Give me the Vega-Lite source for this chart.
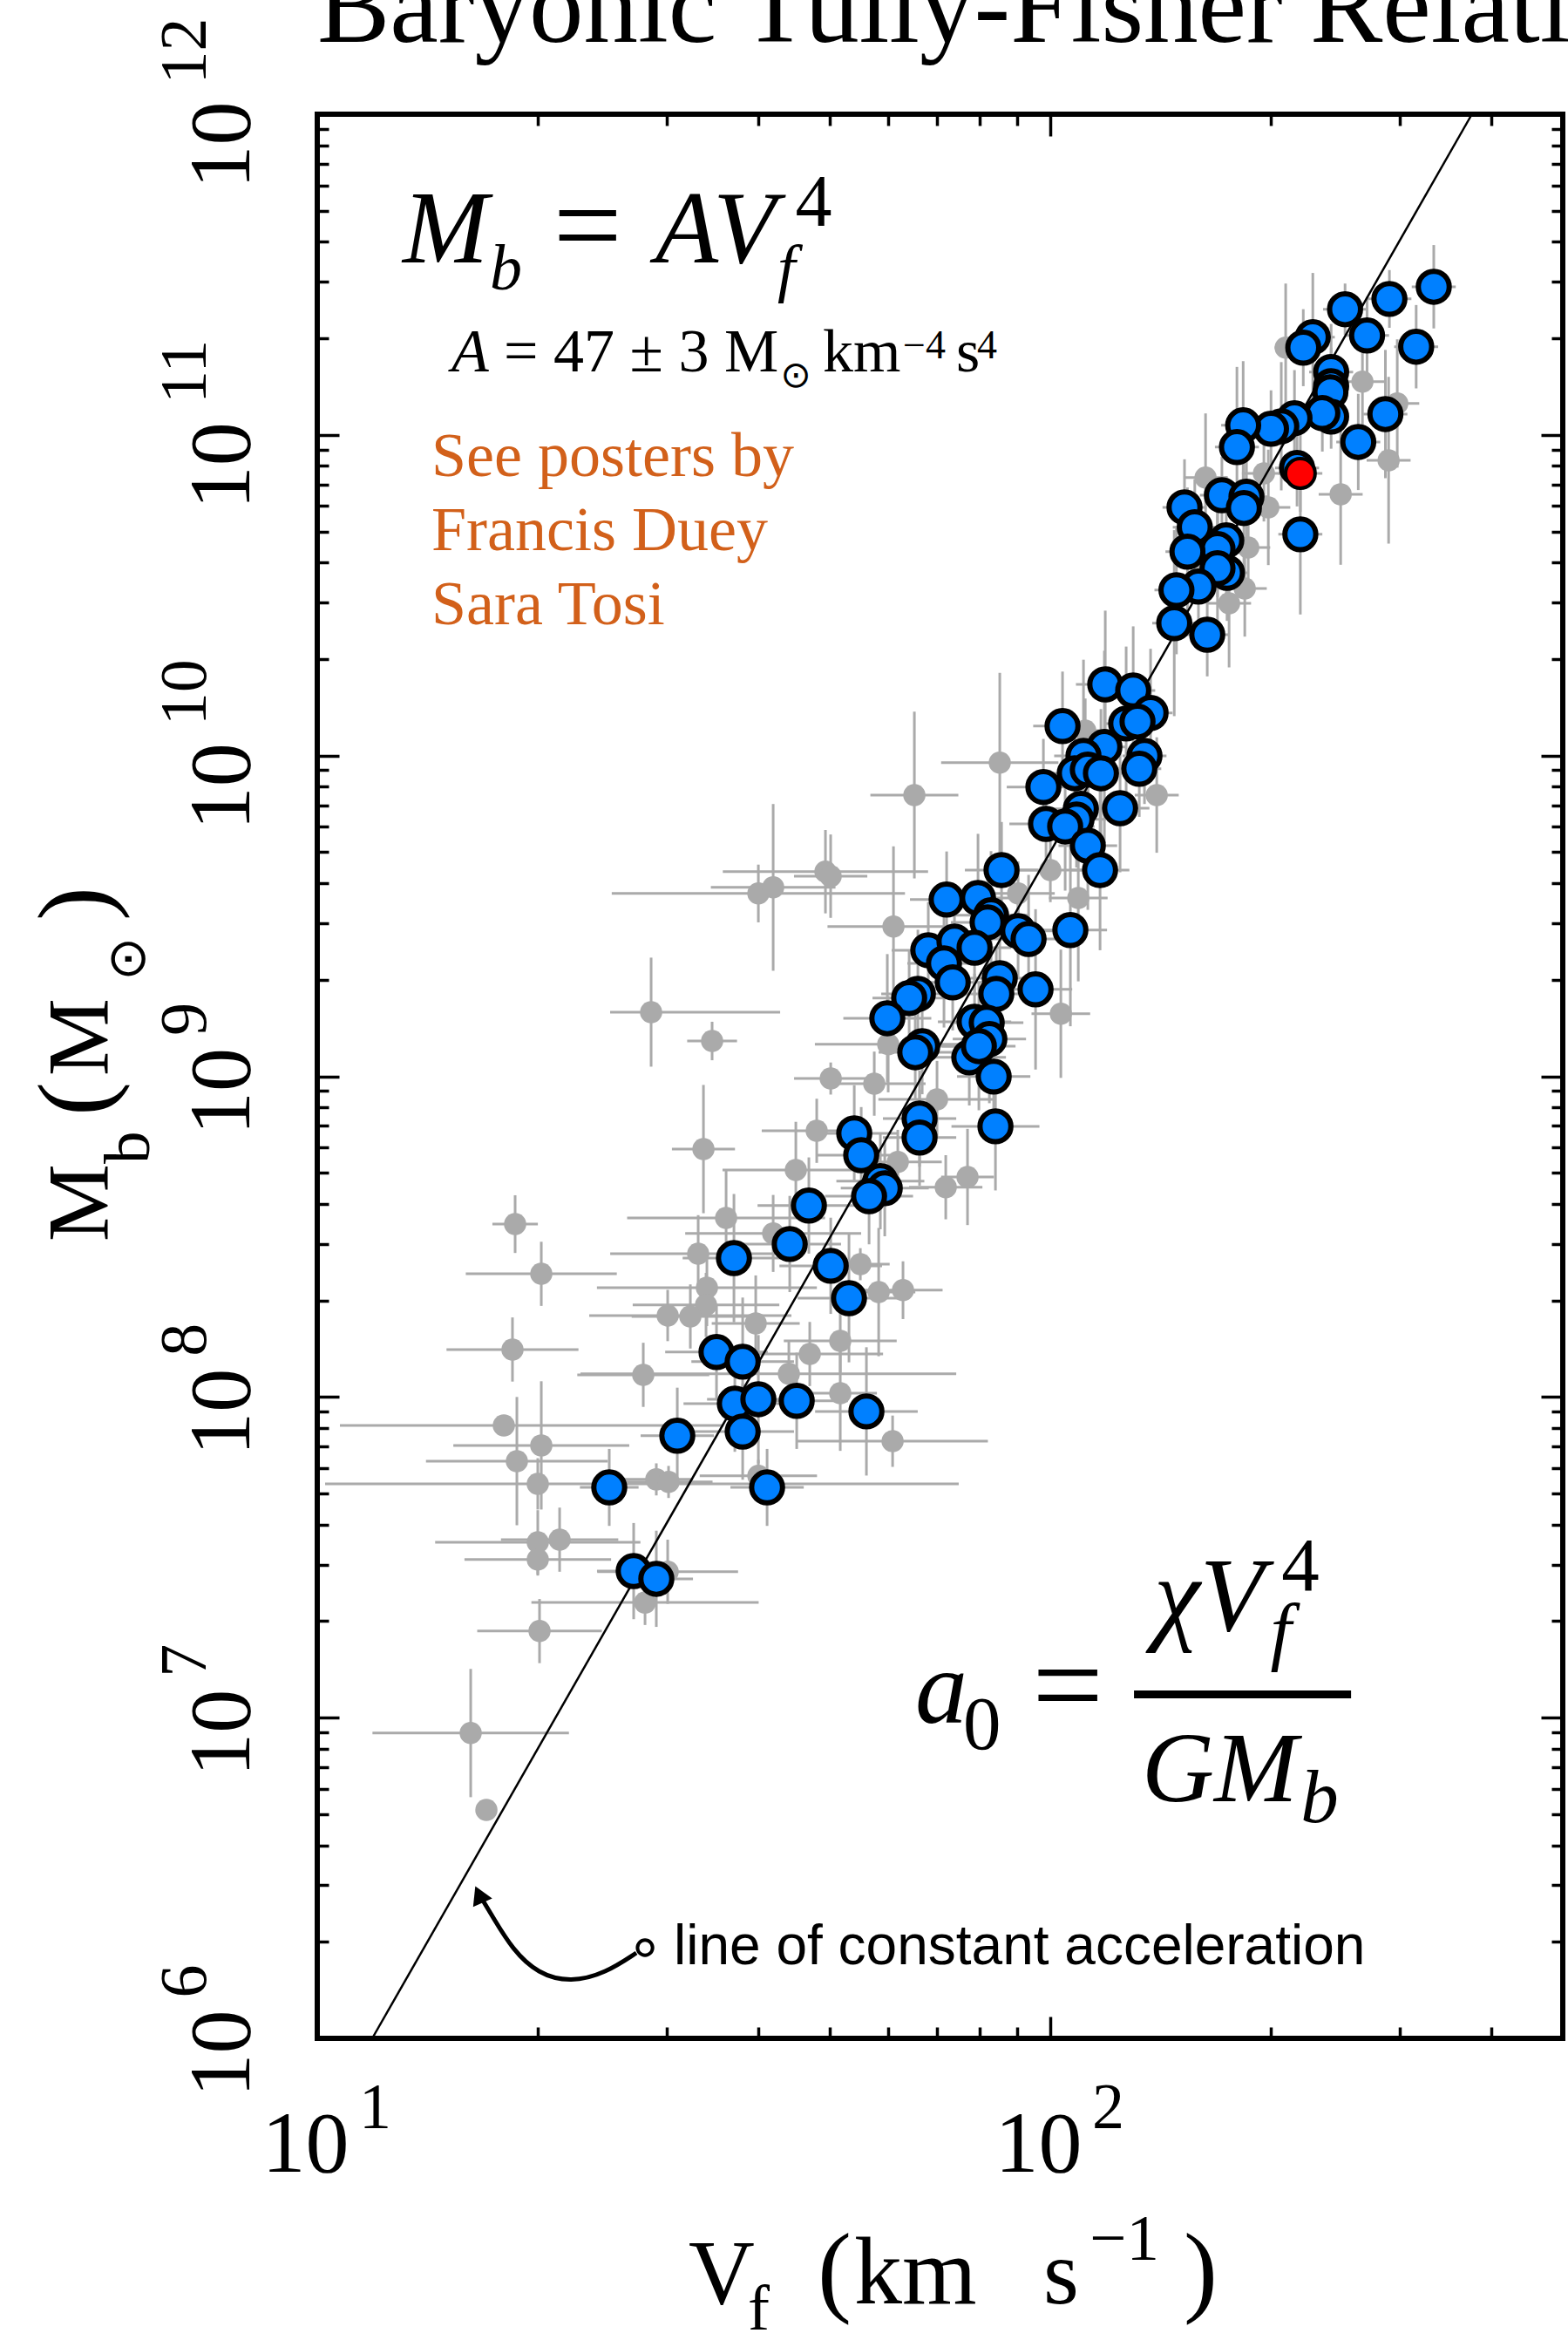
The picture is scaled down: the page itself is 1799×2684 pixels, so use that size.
{
  "$schema": "https://vega.github.io/schema/vega-lite/v6.json",
  "width": 1429,
  "height": 2207,
  "autosize": {"type": "none"},
  "padding": {"left": 364, "top": 131, "right": 6, "bottom": 346},
  "background": "white",
  "config": {
    "font": "Liberation Serif",
    "view": {"stroke": "black", "strokeWidth": 6},
    "axis": {"grid": false, "domain": false}
  },
  "datasets": {
    "points": [
      {"sample": "gray", "logV": 2.321, "logM": 11.272, "dV": 0.015, "dM": 0.2},
      {"sample": "gray", "logV": 2.4257, "logM": 11.166, "dV": 0.03, "dM": 0.15},
      {"sample": "gray", "logV": 2.4732, "logM": 11.098, "dV": 0.03, "dM": 0.2},
      {"sample": "gray", "logV": 2.4614, "logM": 10.921, "dV": 0.03, "dM": 0.26},
      {"sample": "gray", "logV": 2.396, "logM": 10.815, "dV": 0.03, "dM": 0.22},
      {"sample": "gray", "logV": 2.2117, "logM": 10.867, "dV": 0.03, "dM": 0.2},
      {"sample": "gray", "logV": 2.2913, "logM": 10.88, "dV": 0.03, "dM": 0.15},
      {"sample": "gray", "logV": 2.2973, "logM": 10.774, "dV": 0.03, "dM": 0.18},
      {"sample": "gray", "logV": 2.2699, "logM": 10.649, "dV": 0.03, "dM": 0.15},
      {"sample": "gray", "logV": 2.2652, "logM": 10.521, "dV": 0.03, "dM": 0.15},
      {"sample": "gray", "logV": 2.2438, "logM": 10.475, "dV": 0.03, "dM": 0.2},
      {"sample": "gray", "logV": 2.1451, "logM": 9.877, "dV": 0.03, "dM": 0.18},
      {"sample": "gray", "logV": 1.931, "logM": 9.978, "dV": 0.08, "dM": 0.28},
      {"sample": "gray", "logV": 1.8145, "logM": 9.877, "dV": 0.06, "dM": 0.26},
      {"sample": "gray", "logV": 2.0476, "logM": 10.078, "dV": 0.03, "dM": 0.1},
      {"sample": "gray", "logV": 2.0, "logM": 9.643, "dV": 0.05, "dM": 0.1},
      {"sample": "gray", "logV": 1.956, "logM": 9.57, "dV": 0.05, "dM": 0.1},
      {"sample": "gray", "logV": 2.0381, "logM": 9.556, "dV": 0.04, "dM": 0.26},
      {"sample": "gray", "logV": 1.786, "logM": 9.467, "dV": 0.09, "dM": 0.25},
      {"sample": "gray", "logV": 2.0143, "logM": 9.195, "dV": 0.04, "dM": 0.2},
      {"sample": "gray", "logV": 1.6932, "logM": 9.638, "dV": 0.14, "dM": 0.13},
      {"sample": "gray", "logV": 1.7003, "logM": 9.624, "dV": 0.05, "dM": 0.13},
      {"sample": "gray", "logV": 1.6017, "logM": 9.57, "dV": 0.2, "dM": 0.09},
      {"sample": "gray", "logV": 1.6219, "logM": 9.589, "dV": 0.085, "dM": 0.26},
      {"sample": "gray", "logV": 1.4554, "logM": 9.2, "dV": 0, "dM": 0.17},
      {"sample": "gray", "logV": 1.5386, "logM": 9.11, "dV": 0.034, "dM": 0.06},
      {"sample": "gray", "logV": 1.7004, "logM": 8.993, "dV": 0.05, "dM": 0.05},
      {"sample": "gray", "logV": 1.7598, "logM": 8.977, "dV": 0.07, "dM": 0.1},
      {"sample": "gray", "logV": 1.7788, "logM": 9.1, "dV": 0.1, "dM": 0.15},
      {"sample": "gray", "logV": 1.8454, "logM": 8.928, "dV": 0.08, "dM": 0.12},
      {"sample": "gray", "logV": 1.887, "logM": 8.686, "dV": 0.036, "dM": 0.15},
      {"sample": "gray", "logV": 1.8573, "logM": 8.654, "dV": 0.05, "dM": 0.1},
      {"sample": "gray", "logV": 1.7919, "logM": 8.733, "dV": 0.06, "dM": 0.1},
      {"sample": "gray", "logV": 1.6813, "logM": 8.83, "dV": 0.075, "dM": 0.1},
      {"sample": "gray", "logV": 1.5268, "logM": 8.773, "dV": 0.043, "dM": 0.2},
      {"sample": "gray", "logV": 1.6528, "logM": 8.708, "dV": 0.1, "dM": 0.15},
      {"sample": "gray", "logV": 1.5577, "logM": 8.558, "dV": 0.135, "dM": 0.15},
      {"sample": "gray", "logV": 1.6219, "logM": 8.51, "dV": 0.12, "dM": 0.12},
      {"sample": "gray", "logV": 1.5196, "logM": 8.447, "dV": 0.12, "dM": 0.12},
      {"sample": "gray", "logV": 1.5315, "logM": 8.341, "dV": 0.15, "dM": 0.12},
      {"sample": "gray", "logV": 1.5303, "logM": 8.287, "dV": 0.1, "dM": 0.1},
      {"sample": "gray", "logV": 1.478, "logM": 8.254, "dV": 0, "dM": 0.08},
      {"sample": "gray", "logV": 1.5089, "logM": 8.251, "dV": 0.08, "dM": 0.1},
      {"sample": "gray", "logV": 1.5981, "logM": 8.229, "dV": 0.06, "dM": 0.15},
      {"sample": "gray", "logV": 1.7408, "logM": 8.414, "dV": 0.04, "dM": 0.05},
      {"sample": "gray", "logV": 1.7658, "logM": 8.327, "dV": 0.05, "dM": 0.2},
      {"sample": "gray", "logV": 1.799, "logM": 8.333, "dV": 0.054, "dM": 0.09},
      {"sample": "gray", "logV": 1.7134, "logM": 8.175, "dV": 0.077, "dM": 0.1},
      {"sample": "gray", "logV": 1.6718, "logM": 8.134, "dV": 0.1, "dM": 0.1},
      {"sample": "gray", "logV": 1.6433, "logM": 8.072, "dV": 0, "dM": 0.1},
      {"sample": "gray", "logV": 1.7134, "logM": 8.012, "dV": 0.05, "dM": 0.18},
      {"sample": "gray", "logV": 1.7848, "logM": 7.862, "dV": 0.13, "dM": 0.08},
      {"sample": "gray", "logV": 1.2699, "logM": 8.539, "dV": 0.031, "dM": 0.09},
      {"sample": "gray", "logV": 1.3056, "logM": 8.384, "dV": 0.103, "dM": 0.1},
      {"sample": "gray", "logV": 1.2663, "logM": 8.148, "dV": 0.09, "dM": 0.1},
      {"sample": "gray", "logV": 1.4447, "logM": 8.069, "dV": 0.09, "dM": 0.1},
      {"sample": "gray", "logV": 1.2545, "logM": 7.911, "dV": 0, "dM": 0.02},
      {"sample": "gray", "logV": 1.3056, "logM": 7.849, "dV": 0.12, "dM": 0.2},
      {"sample": "gray", "logV": 1.2723, "logM": 7.8, "dV": 0.124, "dM": 0.2},
      {"sample": "gray", "logV": 1.3008, "logM": 7.729, "dV": 0, "dM": 0.08},
      {"sample": "gray", "logV": 1.4625, "logM": 7.743, "dV": 0.05, "dM": 0.05},
      {"sample": "gray", "logV": 1.4792, "logM": 7.735, "dV": 0.06, "dM": 0.05},
      {"sample": "gray", "logV": 1.3008, "logM": 7.547, "dV": 0.14, "dM": 0.1},
      {"sample": "gray", "logV": 1.3306, "logM": 7.555, "dV": 0.08, "dM": 0.1},
      {"sample": "gray", "logV": 1.3008, "logM": 7.493, "dV": 0.1, "dM": 0.05},
      {"sample": "gray", "logV": 1.4471, "logM": 7.359, "dV": 0.155, "dM": 0.07},
      {"sample": "gray", "logV": 1.3032, "logM": 7.27, "dV": 0.085, "dM": 0.1},
      {"sample": "gray", "logV": 1.2093, "logM": 6.952, "dV": 0.134, "dM": 0.2},
      {"sample": "gray", "logV": 1.2307, "logM": 6.712, "dV": 0, "dM": 0},
      {"sample": "gray", "logV": 1.478, "logM": 7.455, "dV": 0.096, "dM": 0.1},
      {"sample": "gray", "logV": 1.6017, "logM": 7.754, "dV": 0.08, "dM": 0.05},
      {"sample": "blue", "logV": 2.523, "logM": 11.462, "dV": 0.03, "dM": 0.13},
      {"sample": "blue", "logV": 2.4625, "logM": 11.424, "dV": 0.03, "dM": 0.09},
      {"sample": "blue", "logV": 2.402, "logM": 11.392, "dV": 0.03, "dM": 0.08},
      {"sample": "blue", "logV": 2.432, "logM": 11.31, "dV": 0.03, "dM": 0.12},
      {"sample": "blue", "logV": 2.499, "logM": 11.275, "dV": 0.03, "dM": 0.13},
      {"sample": "blue", "logV": 2.358, "logM": 11.305, "dV": 0.03, "dM": 0.2},
      {"sample": "blue", "logV": 2.345, "logM": 11.272, "dV": 0.03, "dM": 0.12},
      {"sample": "blue", "logV": 2.383, "logM": 11.196, "dV": 0.03, "dM": 0.15},
      {"sample": "blue", "logV": 2.383, "logM": 11.152, "dV": 0.02, "dM": 0.12},
      {"sample": "blue", "logV": 2.382, "logM": 11.133, "dV": 0.02, "dM": 0.12},
      {"sample": "blue", "logV": 2.383, "logM": 11.057, "dV": 0.02, "dM": 0.1},
      {"sample": "blue", "logV": 2.371, "logM": 11.068, "dV": 0.03, "dM": 0.12},
      {"sample": "blue", "logV": 2.333, "logM": 11.052, "dV": 0.03, "dM": 0.15},
      {"sample": "blue", "logV": 2.315, "logM": 11.027, "dV": 0.03, "dM": 0.2},
      {"sample": "blue", "logV": 2.301, "logM": 11.019, "dV": 0.03, "dM": 0.12},
      {"sample": "blue", "logV": 2.263, "logM": 11.03, "dV": 0.03, "dM": 0.2},
      {"sample": "blue", "logV": 2.2545, "logM": 10.962, "dV": 0.03, "dM": 0.25},
      {"sample": "blue", "logV": 2.457, "logM": 11.065, "dV": 0.03, "dM": 0.2},
      {"sample": "blue", "logV": 2.42, "logM": 10.978, "dV": 0.03, "dM": 0.15},
      {"sample": "blue", "logV": 2.3365, "logM": 10.897, "dV": 0.03, "dM": 0.12},
      {"sample": "blue", "logV": 2.341, "logM": 10.69, "dV": 0.03, "dM": 0.25},
      {"sample": "blue", "logV": 2.183, "logM": 10.774, "dV": 0.03, "dM": 0.15},
      {"sample": "blue", "logV": 2.234, "logM": 10.812, "dV": 0.03, "dM": 0.12},
      {"sample": "blue", "logV": 2.2675, "logM": 10.807, "dV": 0.03, "dM": 0.15},
      {"sample": "blue", "logV": 2.264, "logM": 10.772, "dV": 0.03, "dM": 0.2},
      {"sample": "blue", "logV": 2.197, "logM": 10.712, "dV": 0.03, "dM": 0.15},
      {"sample": "blue", "logV": 2.24, "logM": 10.671, "dV": 0.03, "dM": 0.2},
      {"sample": "blue", "logV": 2.228, "logM": 10.644, "dV": 0.03, "dM": 0.15},
      {"sample": "blue", "logV": 2.187, "logM": 10.636, "dV": 0.03, "dM": 0.2},
      {"sample": "blue", "logV": 2.241, "logM": 10.57, "dV": 0.03, "dM": 0.15},
      {"sample": "blue", "logV": 2.228, "logM": 10.584, "dV": 0.03, "dM": 0.2},
      {"sample": "blue", "logV": 2.202, "logM": 10.527, "dV": 0.03, "dM": 0.15},
      {"sample": "blue", "logV": 2.172, "logM": 10.516, "dV": 0.03, "dM": 0.2},
      {"sample": "blue", "logV": 2.169, "logM": 10.413, "dV": 0.03, "dM": 0.29},
      {"sample": "blue", "logV": 2.214, "logM": 10.377, "dV": 0.03, "dM": 0.13},
      {"sample": "blue", "logV": 2.0749, "logM": 10.222, "dV": 0.04, "dM": 0.23},
      {"sample": "blue", "logV": 2.113, "logM": 10.203, "dV": 0.03, "dM": 0.2},
      {"sample": "blue", "logV": 2.1367, "logM": 10.133, "dV": 0.03, "dM": 0.2},
      {"sample": "blue", "logV": 2.1034, "logM": 10.1, "dV": 0.03, "dM": 0.24},
      {"sample": "blue", "logV": 2.1189, "logM": 10.106, "dV": 0.03, "dM": 0.15},
      {"sample": "blue", "logV": 2.0166, "logM": 10.092, "dV": 0.04, "dM": 0.17},
      {"sample": "blue", "logV": 2.0737, "logM": 10.027, "dV": 0.03, "dM": 0.3},
      {"sample": "blue", "logV": 2.0452, "logM": 9.999, "dV": 0.04, "dM": 0.3},
      {"sample": "blue", "logV": 2.1284, "logM": 9.999, "dV": 0.03, "dM": 0.15},
      {"sample": "blue", "logV": 2.1213, "logM": 9.959, "dV": 0.03, "dM": 0.15},
      {"sample": "blue", "logV": 2.0333, "logM": 9.945, "dV": 0.04, "dM": 0.15},
      {"sample": "blue", "logV": 2.0511, "logM": 9.956, "dV": 0.04, "dM": 0.15},
      {"sample": "blue", "logV": 2.069, "logM": 9.945, "dV": 0.04, "dM": 0.2},
      {"sample": "blue", "logV": 1.9905, "logM": 9.902, "dV": 0.05, "dM": 0.15},
      {"sample": "blue", "logV": 2.0951, "logM": 9.836, "dV": 0.04, "dM": 0.2},
      {"sample": "blue", "logV": 2.0416, "logM": 9.834, "dV": 0.04, "dM": 0.15},
      {"sample": "blue", "logV": 2.0357, "logM": 9.801, "dV": 0.04, "dM": 0.15},
      {"sample": "blue", "logV": 1.9941, "logM": 9.787, "dV": 0.05, "dM": 0.15},
      {"sample": "blue", "logV": 2.0202, "logM": 9.779, "dV": 0.04, "dM": 0.2},
      {"sample": "blue", "logV": 2.0511, "logM": 9.719, "dV": 0.04, "dM": 0.2},
      {"sample": "blue", "logV": 2.0678, "logM": 9.643, "dV": 0.04, "dM": 0.25},
      {"sample": "blue", "logV": 1.9334, "logM": 9.643, "dV": 0.05, "dM": 0.15},
      {"sample": "blue", "logV": 1.8585, "logM": 9.551, "dV": 0.05, "dM": 0.15},
      {"sample": "blue", "logV": 1.9013, "logM": 9.556, "dV": 0.05, "dM": 0.2},
      {"sample": "blue", "logV": 1.9191, "logM": 9.502, "dV": 0.05, "dM": 0.2},
      {"sample": "blue", "logV": 1.9144, "logM": 9.48, "dV": 0.05, "dM": 0.15},
      {"sample": "blue", "logV": 1.956, "logM": 9.453, "dV": 0.05, "dM": 0.15},
      {"sample": "blue", "logV": 1.9703, "logM": 9.428, "dV": 0.05, "dM": 0.2},
      {"sample": "blue", "logV": 2.0273, "logM": 9.456, "dV": 0.05, "dM": 0.3},
      {"sample": "blue", "logV": 1.8335, "logM": 9.393, "dV": 0.05, "dM": 0.15},
      {"sample": "blue", "logV": 1.8692, "logM": 9.42, "dV": 0.05, "dM": 0.15},
      {"sample": "blue", "logV": 1.8549, "logM": 9.352, "dV": 0.05, "dM": 0.2},
      {"sample": "blue", "logV": 1.8668, "logM": 9.293, "dV": 0.05, "dM": 0.15},
      {"sample": "blue", "logV": 1.8966, "logM": 9.401, "dV": 0.05, "dM": 0.15},
      {"sample": "blue", "logV": 1.931, "logM": 9.306, "dV": 0.05, "dM": 0.2},
      {"sample": "blue", "logV": 1.9263, "logM": 9.257, "dV": 0.05, "dM": 0.15},
      {"sample": "blue", "logV": 1.9798, "logM": 9.271, "dV": 0.05, "dM": 0.25},
      {"sample": "blue", "logV": 1.8193, "logM": 9.257, "dV": 0.05, "dM": 0.2},
      {"sample": "blue", "logV": 1.8074, "logM": 9.244, "dV": 0.05, "dM": 0.15},
      {"sample": "blue", "logV": 1.7776, "logM": 9.181, "dV": 0.06, "dM": 0.2},
      {"sample": "blue", "logV": 1.8966, "logM": 9.17, "dV": 0.05, "dM": 0.15},
      {"sample": "blue", "logV": 1.9132, "logM": 9.167, "dV": 0.05, "dM": 0.15},
      {"sample": "blue", "logV": 1.9168, "logM": 9.116, "dV": 0.05, "dM": 0.2},
      {"sample": "blue", "logV": 1.8252, "logM": 9.094, "dV": 0.05, "dM": 0.15},
      {"sample": "blue", "logV": 1.8157, "logM": 9.075, "dV": 0.05, "dM": 0.15},
      {"sample": "blue", "logV": 1.8894, "logM": 9.059, "dV": 0.05, "dM": 0.15},
      {"sample": "blue", "logV": 1.9025, "logM": 9.094, "dV": 0.05, "dM": 0.2},
      {"sample": "blue", "logV": 1.9227, "logM": 8.999, "dV": 0.05, "dM": 0.2},
      {"sample": "blue", "logV": 1.9251, "logM": 8.844, "dV": 0.06, "dM": 0.2},
      {"sample": "blue", "logV": 1.8216, "logM": 8.868, "dV": 0.05, "dM": 0.15},
      {"sample": "blue", "logV": 1.8216, "logM": 8.809, "dV": 0.05, "dM": 0.15},
      {"sample": "blue", "logV": 1.7325, "logM": 8.822, "dV": 0.06, "dM": 0.15},
      {"sample": "blue", "logV": 1.742, "logM": 8.754, "dV": 0.06, "dM": 0.15},
      {"sample": "blue", "logV": 1.7681, "logM": 8.673, "dV": 0.06, "dM": 0.15},
      {"sample": "blue", "logV": 1.7741, "logM": 8.651, "dV": 0.06, "dM": 0.15},
      {"sample": "blue", "logV": 1.7527, "logM": 8.626, "dV": 0.06, "dM": 0.15},
      {"sample": "blue", "logV": 1.6706, "logM": 8.597, "dV": 0.07, "dM": 0.15},
      {"sample": "blue", "logV": 1.6445, "logM": 8.477, "dV": 0.07, "dM": 0.15},
      {"sample": "blue", "logV": 1.5684, "logM": 8.433, "dV": 0.07, "dM": 0.2},
      {"sample": "blue", "logV": 1.7004, "logM": 8.409, "dV": 0.07, "dM": 0.15},
      {"sample": "blue", "logV": 1.7253, "logM": 8.308, "dV": 0.07, "dM": 0.2},
      {"sample": "blue", "logV": 1.5446, "logM": 8.14, "dV": 0.07, "dM": 0.15},
      {"sample": "blue", "logV": 1.5803, "logM": 8.11, "dV": 0.07, "dM": 0.2},
      {"sample": "blue", "logV": 1.5696, "logM": 7.979, "dV": 0.07, "dM": 0.15},
      {"sample": "blue", "logV": 1.6017, "logM": 7.993, "dV": 0.07, "dM": 0.2},
      {"sample": "blue", "logV": 1.654, "logM": 7.988, "dV": 0.07, "dM": 0.15},
      {"sample": "blue", "logV": 1.5803, "logM": 7.892, "dV": 0.07, "dM": 0.15},
      {"sample": "blue", "logV": 1.4911, "logM": 7.879, "dV": 0.05, "dM": 0.15},
      {"sample": "blue", "logV": 1.7491, "logM": 7.955, "dV": 0.07, "dM": 0.2},
      {"sample": "blue", "logV": 1.3983, "logM": 7.718, "dV": 0.04, "dM": 0.12},
      {"sample": "blue", "logV": 1.6136, "logM": 7.718, "dV": 0.05, "dM": 0.12},
      {"sample": "blue", "logV": 1.4316, "logM": 7.457, "dV": 0.05, "dM": 0.15},
      {"sample": "blue", "logV": 1.4625, "logM": 7.433, "dV": 0.05, "dM": 0.15},
      {"sample": "red", "logV": 2.341, "logM": 10.88, "dV": 0.03, "dM": 0.12}
    ],
    "wideErrors": [
      {"logM": 9.2, "logVlo": 1.3995, "logVhi": 1.6314},
      {"logM": 8.254, "logVlo": 1.371, "logVhi": 1.6468},
      {"logM": 8.072, "logVlo": 1.3591, "logVhi": 1.8716},
      {"logM": 7.911, "logVlo": 1.0309, "logVhi": 1.5541},
      {"logM": 7.729, "logVlo": 1.0107, "logVhi": 1.875}
    ],
    "accelLine": [
      {"logV": 1.075, "logM": 6.0},
      {"logV": 2.575, "logM": 12.0}
    ],
    "arrowPath": [
      {"step": 1, "logV": 1.4352, "logM": 6.2665},
      {"step": 2, "logV": 1.3936, "logM": 6.2039},
      {"step": 3, "logV": 1.346, "logM": 6.174},
      {"step": 4, "logV": 1.3008, "logM": 6.2012},
      {"step": 5, "logV": 1.2663, "logM": 6.2773},
      {"step": 6, "logV": 1.2402, "logM": 6.3752},
      {"step": 7, "logV": 1.2247, "logM": 6.435}
    ]
  },
  "layer": [
    {
      "data": {"name": "points"},
      "mark": {"type": "errorbar", "color": "#aaaaaa", "thickness": 3},
      "encoding": {
        "x": {"field": "logV", "type": "quantitative", "scale": {"domain": [1, 2.69897], "nice": false, "zero": false}, "axis": null},
        "xError": {"field": "dV"},
        "y": {"field": "logM", "type": "quantitative", "scale": {"domain": [6, 12], "nice": false, "zero": false}, "axis": null}
      }
    },
    {
      "data": {"name": "points"},
      "mark": {"type": "errorbar", "color": "#aaaaaa", "thickness": 3},
      "encoding": {
        "x": {"field": "logV", "type": "quantitative", "scale": {"domain": [1, 2.69897], "nice": false, "zero": false}, "axis": null},
        "y": {"field": "logM", "type": "quantitative", "scale": {"domain": [6, 12], "nice": false, "zero": false}, "axis": null},
        "yError": {"field": "dM"}
      }
    },
    {
      "data": {"name": "wideErrors"},
      "mark": {"type": "rule", "color": "#aaaaaa", "strokeWidth": 3},
      "encoding": {
        "x": {"field": "logVlo", "type": "quantitative", "scale": {"domain": [1, 2.69897], "nice": false, "zero": false}, "axis": null},
        "x2": {"field": "logVhi"},
        "y": {"field": "logM", "type": "quantitative", "scale": {"domain": [6, 12], "nice": false, "zero": false}, "axis": null}
      }
    },
    {
      "data": {"name": "points"},
      "transform": [{"filter": "datum.sample === 'gray'"}],
      "mark": {"type": "point", "shape": "circle", "filled": true, "color": "#aaaaaa", "opacity": 1, "size": 650},
      "encoding": {
        "x": {"field": "logV", "type": "quantitative", "scale": {"domain": [1, 2.69897], "nice": false, "zero": false},
          "axis": {"orient": "bottom", "title": null, "labels": false, "domain": false, "grid": false, "ticks": true,
            "values": [1, 1.30103, 1.47712, 1.60206, 1.69897, 1.77815, 1.8451, 1.90309, 1.95424, 2, 2.30103, 2.47712, 2.60206],
            "tickColor": "black", "tickWidth": 3.5,
            "tickSize": {"condition": {"test": "datum.value % 1 === 0", "value": -25}, "value": -13}}},
        "y": {"field": "logM", "type": "quantitative", "scale": {"domain": [6, 12], "nice": false, "zero": false},
          "axis": {"orient": "left", "title": null, "labels": false, "domain": false, "grid": false, "ticks": true,
            "values": [6, 6.30103, 6.47712, 6.60206, 6.69897, 6.77815, 6.8451, 6.90309, 6.95424,
                       7, 7.30103, 7.47712, 7.60206, 7.69897, 7.77815, 7.8451, 7.90309, 7.95424,
                       8, 8.30103, 8.47712, 8.60206, 8.69897, 8.77815, 8.8451, 8.90309, 8.95424,
                       9, 9.30103, 9.47712, 9.60206, 9.69897, 9.77815, 9.8451, 9.90309, 9.95424,
                       10, 10.30103, 10.47712, 10.60206, 10.69897, 10.77815, 10.8451, 10.90309, 10.95424,
                       11, 11.30103, 11.47712, 11.60206, 11.69897, 11.77815, 11.8451, 11.90309, 11.95424, 12],
            "tickColor": "black", "tickWidth": 3.5,
            "tickSize": {"condition": {"test": "datum.value % 1 === 0", "value": -25}, "value": -13}}}
      }
    },
    {
      "data": {"name": "accelLine"},
      "mark": {"type": "line", "color": "black", "strokeWidth": 2.5},
      "encoding": {
        "x": {"field": "logV", "type": "quantitative", "scale": {"domain": [1, 2.69897], "nice": false, "zero": false},
          "axis": {"orient": "top", "title": null, "labels": false, "domain": false, "grid": false, "ticks": true,
            "values": [1, 1.30103, 1.47712, 1.60206, 1.69897, 1.77815, 1.8451, 1.90309, 1.95424, 2, 2.30103, 2.47712, 2.60206],
            "tickColor": "black", "tickWidth": 3.5,
            "tickSize": {"condition": {"test": "datum.value % 1 === 0", "value": -25}, "value": -13}}},
        "y": {"field": "logM", "type": "quantitative", "scale": {"domain": [6, 12], "nice": false, "zero": false},
          "axis": {"orient": "right", "title": null, "labels": false, "domain": false, "grid": false, "ticks": true,
            "values": [6, 6.30103, 6.47712, 6.60206, 6.69897, 6.77815, 6.8451, 6.90309, 6.95424,
                       7, 7.30103, 7.47712, 7.60206, 7.69897, 7.77815, 7.8451, 7.90309, 7.95424,
                       8, 8.30103, 8.47712, 8.60206, 8.69897, 8.77815, 8.8451, 8.90309, 8.95424,
                       9, 9.30103, 9.47712, 9.60206, 9.69897, 9.77815, 9.8451, 9.90309, 9.95424,
                       10, 10.30103, 10.47712, 10.60206, 10.69897, 10.77815, 10.8451, 10.90309, 10.95424,
                       11, 11.30103, 11.47712, 11.60206, 11.69897, 11.77815, 11.8451, 11.90309, 11.95424, 12],
            "tickColor": "black", "tickWidth": 3.5,
            "tickSize": {"condition": {"test": "datum.value % 1 === 0", "value": -25}, "value": -13}}}
      }
    },
    {
      "data": {"name": "points"},
      "transform": [{"filter": "datum.sample === 'blue'"}],
      "mark": {"type": "point", "shape": "circle", "filled": true, "fill": "#0080ff", "stroke": "black", "strokeWidth": 6, "opacity": 1, "size": 1257},
      "encoding": {
        "x": {"field": "logV", "type": "quantitative", "scale": {"domain": [1, 2.69897], "nice": false, "zero": false},
          "axis": {"orient": "bottom", "title": null, "ticks": false, "domain": false, "grid": false, "values": [1, 2],
            "labelExpr": "'10'", "labelFont": "Liberation Serif", "labelFontSize": 100, "labelColor": "black",
            "labelAlign": "center", "labelBaseline": "alphabetic", "labelPadding": 152, "labelOffset": -14,
            "labelFlush": false, "labelOverlap": false, "labelBound": false, "labelLimit": 0}},
        "y": {"field": "logM", "type": "quantitative", "scale": {"domain": [6, 12], "nice": false, "zero": false},
          "axis": {"orient": "left", "title": null, "ticks": false, "domain": false, "grid": false, "values": [6, 7, 8, 9, 10, 11, 12],
            "labelExpr": "'10'", "labelFont": "Liberation Serif", "labelFontSize": 100, "labelColor": "black",
            "labelAngle": 270, "labelAlign": "center", "labelBaseline": "alphabetic", "labelPadding": 79,
            "labelOffset": {"condition": {"test": "datum.value >= 10", "value": 35}, "value": 17},
            "labelFlush": false, "labelOverlap": false, "labelBound": false, "labelLimit": 0}}
      }
    },
    {
      "data": {"name": "points"},
      "transform": [{"filter": "datum.sample === 'red'"}],
      "mark": {"type": "point", "shape": "circle", "filled": true, "fill": "#ff0000", "stroke": "black", "strokeWidth": 4, "opacity": 1, "size": 1150},
      "encoding": {
        "x": {"field": "logV", "type": "quantitative", "scale": {"domain": [1, 2.69897], "nice": false, "zero": false},
          "axis": {"orient": "bottom", "title": null, "ticks": false, "domain": false, "grid": false, "values": [1, 2],
            "labelExpr": "format(datum.value, 'd')", "labelFont": "Liberation Serif", "labelFontSize": 74, "labelColor": "black",
            "labelAlign": "center", "labelBaseline": "alphabetic", "labelPadding": 102, "labelOffset": 66,
            "labelFlush": false, "labelOverlap": false, "labelBound": false, "labelLimit": 0}},
        "y": {"field": "logM", "type": "quantitative", "scale": {"domain": [6, 12], "nice": false, "zero": false},
          "axis": {"orient": "left", "title": null, "ticks": false, "domain": false, "grid": false, "values": [6, 7, 8, 9, 10, 11, 12],
            "labelExpr": "format(datum.value, 'd')", "labelFont": "Liberation Serif", "labelFontSize": 76, "labelColor": "black",
            "labelAngle": 270, "labelAlign": "center", "labelBaseline": "alphabetic", "labelPadding": 129,
            "labelOffset": {"condition": {"test": "datum.value >= 10", "value": -73}, "value": -66},
            "labelFlush": false, "labelOverlap": false, "labelBound": false, "labelLimit": 0}}
      }
    },
    {
      "data": {"name": "arrowPath"},
      "mark": {"type": "line", "color": "black", "strokeWidth": 5, "interpolate": "basis"},
      "encoding": {
        "x": {"field": "logV", "type": "quantitative", "scale": {"domain": [1, 2.69897], "nice": false, "zero": false}, "axis": null},
        "y": {"field": "logM", "type": "quantitative", "scale": {"domain": [6, 12], "nice": false, "zero": false}, "axis": null},
        "order": {"field": "step"}
      }
    },
    {
      "data": {"values": [{}]},
      "mark": {"type": "point", "shape": "triangle-up", "filled": true, "color": "black", "opacity": 1, "size": 576, "angle": 336},
      "encoding": {
        "x": {"datum": 1.2206, "type": "quantitative", "scale": {"domain": [1, 2.69897], "nice": false, "zero": false}, "axis": null},
        "y": {"datum": 6.4486, "type": "quantitative", "scale": {"domain": [6, 12], "nice": false, "zero": false}, "axis": null}
      }
    },
    {
      "data": {"values": [{}]},
      "mark": {"type": "point", "shape": "circle", "filled": true, "fill": "white", "stroke": "black", "strokeWidth": 4, "opacity": 1, "size": 300},
      "encoding": {
        "x": {"datum": 1.4471, "type": "quantitative", "scale": {"domain": [1, 2.69897], "nice": false, "zero": false}, "axis": null},
        "y": {"datum": 6.2828, "type": "quantitative", "scale": {"domain": [6, 12], "nice": false, "zero": false}, "axis": null}
      }
    },
    {
      "data": {"values": [{}]},
      "mark": {"type": "text", "text": "line of constant acceleration", "font": "Liberation Sans", "fontSize": 64, "align": "left", "baseline": "alphabetic", "color": "black"},
      "encoding": {
        "x": {"datum": 1.4863, "type": "quantitative", "scale": {"domain": [1, 2.69897], "nice": false, "zero": false}, "axis": null},
        "y": {"datum": 6.2311, "type": "quantitative", "scale": {"domain": [6, 12], "nice": false, "zero": false}, "axis": null}
      }
    },
    {
      "data": {"values": [{}]},
      "mark": {"type": "text", "text": "Baryonic Tully-Fisher Relation", "font": "Liberation Serif", "fontSize": 125, "align": "left", "baseline": "alphabetic", "color": "black"},
      "encoding": {
        "x": {"datum": 1.0, "type": "quantitative", "scale": {"domain": [1, 2.69897], "nice": false, "zero": false}, "axis": null},
        "y": {"datum": 12.2262, "type": "quantitative", "scale": {"domain": [6, 12], "nice": false, "zero": false}, "axis": null}
      }
    },
    {
      "data": {"values": [{}]},
      "mark": {"type": "text", "text": "M", "font": "Liberation Serif", "fontStyle": "italic", "fontSize": 118, "align": "left", "baseline": "alphabetic", "color": "black"},
      "encoding": {
        "x": {"datum": 1.1165, "type": "quantitative", "scale": {"domain": [1, 2.69897], "nice": false, "zero": false}, "axis": null},
        "y": {"datum": 11.5383, "type": "quantitative", "scale": {"domain": [6, 12], "nice": false, "zero": false}, "axis": null}
      }
    },
    {
      "data": {"values": [{}]},
      "mark": {"type": "text", "text": "b", "font": "Liberation Serif", "fontStyle": "italic", "fontSize": 74, "align": "left", "baseline": "alphabetic", "color": "black"},
      "encoding": {
        "x": {"datum": 1.2354, "type": "quantitative", "scale": {"domain": [1, 2.69897], "nice": false, "zero": false}, "axis": null},
        "y": {"datum": 11.454, "type": "quantitative", "scale": {"domain": [6, 12], "nice": false, "zero": false}, "axis": null}
      }
    },
    {
      "data": {"values": [{}]},
      "mark": {"type": "text", "text": "=", "font": "Liberation Serif", "fontSize": 140, "align": "center", "baseline": "alphabetic", "color": "black"},
      "encoding": {
        "x": {"datum": 1.3687, "type": "quantitative", "scale": {"domain": [1, 2.69897], "nice": false, "zero": false}, "axis": null},
        "y": {"datum": 11.5274, "type": "quantitative", "scale": {"domain": [6, 12], "nice": false, "zero": false}, "axis": null}
      }
    },
    {
      "data": {"values": [{}]},
      "mark": {"type": "text", "text": "AV", "font": "Liberation Serif", "fontStyle": "italic", "fontSize": 118, "align": "left", "baseline": "alphabetic", "color": "black"},
      "encoding": {
        "x": {"datum": 1.4614, "type": "quantitative", "scale": {"domain": [1, 2.69897], "nice": false, "zero": false}, "axis": null},
        "y": {"datum": 11.5383, "type": "quantitative", "scale": {"domain": [6, 12], "nice": false, "zero": false}, "axis": null}
      }
    },
    {
      "data": {"values": [{}]},
      "mark": {"type": "text", "text": "f", "font": "Liberation Serif", "fontStyle": "italic", "fontSize": 74, "align": "left", "baseline": "alphabetic", "color": "black"},
      "encoding": {
        "x": {"datum": 1.6278, "type": "quantitative", "scale": {"domain": [1, 2.69897], "nice": false, "zero": false}, "axis": null},
        "y": {"datum": 11.454, "type": "quantitative", "scale": {"domain": [6, 12], "nice": false, "zero": false}, "axis": null}
      }
    },
    {
      "data": {"values": [{}]},
      "mark": {"type": "text", "text": "4", "font": "Liberation Serif", "fontSize": 84, "align": "left", "baseline": "alphabetic", "color": "black"},
      "encoding": {
        "x": {"datum": 1.652, "type": "quantitative", "scale": {"domain": [1, 2.69897], "nice": false, "zero": false}, "axis": null},
        "y": {"datum": 11.6525, "type": "quantitative", "scale": {"domain": [6, 12], "nice": false, "zero": false}, "axis": null}
      }
    },
    {
      "data": {"values": [{}]},
      "mark": {"type": "text", "text": "A", "font": "Liberation Serif", "fontStyle": "italic", "fontSize": 70, "align": "left", "baseline": "alphabetic", "color": "black"},
      "encoding": {
        "x": {"datum": 1.1831, "type": "quantitative", "scale": {"domain": [1, 2.69897], "nice": false, "zero": false}, "axis": null},
        "y": {"datum": 11.1985, "type": "quantitative", "scale": {"domain": [6, 12], "nice": false, "zero": false}, "axis": null}
      }
    },
    {
      "data": {"values": [{}]},
      "mark": {"type": "text", "text": "= 47 ± 3 M", "font": "Liberation Serif", "fontSize": 70, "align": "left", "baseline": "alphabetic", "color": "black"},
      "encoding": {
        "x": {"datum": 1.2545, "type": "quantitative", "scale": {"domain": [1, 2.69897], "nice": false, "zero": false}, "axis": null},
        "y": {"datum": 11.1985, "type": "quantitative", "scale": {"domain": [6, 12], "nice": false, "zero": false}, "axis": null}
      }
    },
    {
      "data": {"values": [{}]},
      "mark": {"type": "text", "text": "⊙", "font": "DejaVu Sans", "fontSize": 42, "align": "center", "baseline": "alphabetic", "color": "black"},
      "encoding": {
        "x": {"datum": 1.6528, "type": "quantitative", "scale": {"domain": [1, 2.69897], "nice": false, "zero": false}, "axis": null},
        "y": {"datum": 11.1496, "type": "quantitative", "scale": {"domain": [6, 12], "nice": false, "zero": false}, "axis": null}
      }
    },
    {
      "data": {"values": [{}]},
      "mark": {"type": "text", "text": "km", "font": "Liberation Serif", "fontSize": 70, "align": "left", "baseline": "alphabetic", "color": "black"},
      "encoding": {
        "x": {"datum": 1.6897, "type": "quantitative", "scale": {"domain": [1, 2.69897], "nice": false, "zero": false}, "axis": null},
        "y": {"datum": 11.1985, "type": "quantitative", "scale": {"domain": [6, 12], "nice": false, "zero": false}, "axis": null}
      }
    },
    {
      "data": {"values": [{}]},
      "mark": {"type": "text", "text": "−4", "font": "Liberation Serif", "fontSize": 46, "align": "left", "baseline": "alphabetic", "color": "black"},
      "encoding": {
        "x": {"datum": 1.799, "type": "quantitative", "scale": {"domain": [1, 2.69897], "nice": false, "zero": false}, "axis": null},
        "y": {"datum": 11.2393, "type": "quantitative", "scale": {"domain": [6, 12], "nice": false, "zero": false}, "axis": null}
      }
    },
    {
      "data": {"values": [{}]},
      "mark": {"type": "text", "text": "s", "font": "Liberation Serif", "fontSize": 70, "align": "left", "baseline": "alphabetic", "color": "black"},
      "encoding": {
        "x": {"datum": 1.8716, "type": "quantitative", "scale": {"domain": [1, 2.69897], "nice": false, "zero": false}, "axis": null},
        "y": {"datum": 11.1985, "type": "quantitative", "scale": {"domain": [6, 12], "nice": false, "zero": false}, "axis": null}
      }
    },
    {
      "data": {"values": [{}]},
      "mark": {"type": "text", "text": "4", "font": "Liberation Serif", "fontSize": 46, "align": "left", "baseline": "alphabetic", "color": "black"},
      "encoding": {
        "x": {"datum": 1.9001, "type": "quantitative", "scale": {"domain": [1, 2.69897], "nice": false, "zero": false}, "axis": null},
        "y": {"datum": 11.2393, "type": "quantitative", "scale": {"domain": [6, 12], "nice": false, "zero": false}, "axis": null}
      }
    },
    {
      "data": {"values": [{}]},
      "mark": {"type": "text", "text": ["See posters by", "Francis Duey", "Sara Tosi"], "lineHeight": 85, "font": "Liberation Serif", "fontSize": 72, "align": "left", "baseline": "alphabetic", "color": "#d2601a"},
      "encoding": {
        "x": {"datum": 1.1558, "type": "quantitative", "scale": {"domain": [1, 2.69897], "nice": false, "zero": false}, "axis": null},
        "y": {"datum": 10.8722, "type": "quantitative", "scale": {"domain": [6, 12], "nice": false, "zero": false}, "axis": null}
      }
    },
    {
      "data": {"values": [{}]},
      "mark": {"type": "text", "text": "a", "font": "Liberation Serif", "fontStyle": "italic", "fontSize": 120, "align": "left", "baseline": "alphabetic", "color": "black"},
      "encoding": {
        "x": {"datum": 1.8157, "type": "quantitative", "scale": {"domain": [1, 2.69897], "nice": false, "zero": false}, "axis": null},
        "y": {"datum": 6.9842, "type": "quantitative", "scale": {"domain": [6, 12], "nice": false, "zero": false}, "axis": null}
      }
    },
    {
      "data": {"values": [{}]},
      "mark": {"type": "text", "text": "0", "font": "Liberation Serif", "fontSize": 87, "align": "left", "baseline": "alphabetic", "color": "black"},
      "encoding": {
        "x": {"datum": 1.8811, "type": "quantitative", "scale": {"domain": [1, 2.69897], "nice": false, "zero": false}, "axis": null},
        "y": {"datum": 6.9027, "type": "quantitative", "scale": {"domain": [6, 12], "nice": false, "zero": false}, "axis": null}
      }
    },
    {
      "data": {"values": [{}]},
      "mark": {"type": "text", "text": "=", "font": "Liberation Serif", "fontSize": 145, "align": "center", "baseline": "alphabetic", "color": "black"},
      "encoding": {
        "x": {"datum": 2.0238, "type": "quantitative", "scale": {"domain": [1, 2.69897], "nice": false, "zero": false}, "axis": null},
        "y": {"datum": 6.9706, "type": "quantitative", "scale": {"domain": [6, 12], "nice": false, "zero": false}, "axis": null}
      }
    },
    {
      "data": {"values": [{}]},
      "mark": {"type": "rule", "color": "black", "strokeWidth": 9, "strokeCap": "butt"},
      "encoding": {
        "x": {"datum": 2.1141, "type": "quantitative", "scale": {"domain": [1, 2.69897], "nice": false, "zero": false}, "axis": null},
        "x2": {"datum": 2.4102},
        "y": {"datum": 7.0726, "type": "quantitative", "scale": {"domain": [6, 12], "nice": false, "zero": false}, "axis": null}
      }
    },
    {
      "data": {"values": [{}]},
      "mark": {"type": "text", "text": "χV", "font": "Liberation Serif", "fontStyle": "italic", "fontSize": 120, "align": "left", "baseline": "alphabetic", "color": "black"},
      "encoding": {
        "x": {"datum": 2.1415, "type": "quantitative", "scale": {"domain": [1, 2.69897], "nice": false, "zero": false}, "axis": null},
        "y": {"datum": 7.2724, "type": "quantitative", "scale": {"domain": [6, 12], "nice": false, "zero": false}, "axis": null}
      }
    },
    {
      "data": {"values": [{}]},
      "mark": {"type": "text", "text": "f", "font": "Liberation Serif", "fontStyle": "italic", "fontSize": 87, "align": "left", "baseline": "alphabetic", "color": "black"},
      "encoding": {
        "x": {"datum": 2.3, "type": "quantitative", "scale": {"domain": [1, 2.69897], "nice": false, "zero": false}, "axis": null},
        "y": {"datum": 7.1936, "type": "quantitative", "scale": {"domain": [6, 12], "nice": false, "zero": false}, "axis": null}
      }
    },
    {
      "data": {"values": [{}]},
      "mark": {"type": "text", "text": "4", "font": "Liberation Serif", "fontSize": 87, "align": "left", "baseline": "alphabetic", "color": "black"},
      "encoding": {
        "x": {"datum": 2.3151, "type": "quantitative", "scale": {"domain": [1, 2.69897], "nice": false, "zero": false}, "axis": null},
        "y": {"datum": 7.3975, "type": "quantitative", "scale": {"domain": [6, 12], "nice": false, "zero": false}, "axis": null}
      }
    },
    {
      "data": {"values": [{}]},
      "mark": {"type": "text", "text": "GM", "font": "Liberation Serif", "fontStyle": "italic", "fontSize": 115, "align": "left", "baseline": "alphabetic", "color": "black"},
      "encoding": {
        "x": {"datum": 2.1248, "type": "quantitative", "scale": {"domain": [1, 2.69897], "nice": false, "zero": false}, "axis": null},
        "y": {"datum": 6.7395, "type": "quantitative", "scale": {"domain": [6, 12], "nice": false, "zero": false}, "axis": null}
      }
    },
    {
      "data": {"values": [{}]},
      "mark": {"type": "text", "text": "b", "font": "Liberation Serif", "fontStyle": "italic", "fontSize": 87, "align": "left", "baseline": "alphabetic", "color": "black"},
      "encoding": {
        "x": {"datum": 2.3413, "type": "quantitative", "scale": {"domain": [1, 2.69897], "nice": false, "zero": false}, "axis": null},
        "y": {"datum": 6.6743, "type": "quantitative", "scale": {"domain": [6, 12], "nice": false, "zero": false}, "axis": null}
      }
    },
    {
      "data": {"values": [{}]},
      "mark": {"type": "text", "text": "V", "font": "Liberation Serif", "fontSize": 105, "align": "left", "baseline": "alphabetic", "color": "black"},
      "encoding": {
        "x": {"datum": 1.5065, "type": "quantitative", "scale": {"domain": [1, 2.69897], "nice": false, "zero": false}, "axis": null},
        "y": {"datum": 5.1735, "type": "quantitative", "scale": {"domain": [6, 12], "nice": false, "zero": false}, "axis": null}
      }
    },
    {
      "data": {"values": [{}]},
      "mark": {"type": "text", "text": "f", "font": "Liberation Serif", "fontSize": 75, "align": "left", "baseline": "alphabetic", "color": "black"},
      "encoding": {
        "x": {"datum": 1.5874, "type": "quantitative", "scale": {"domain": [1, 2.69897], "nice": false, "zero": false}, "axis": null},
        "y": {"datum": 5.0919, "type": "quantitative", "scale": {"domain": [6, 12], "nice": false, "zero": false}, "axis": null}
      }
    },
    {
      "data": {"values": [{}]},
      "mark": {"type": "text", "text": "(", "font": "Liberation Serif", "fontSize": 117, "align": "left", "baseline": "alphabetic", "color": "black"},
      "encoding": {
        "x": {"datum": 1.6825, "type": "quantitative", "scale": {"domain": [1, 2.69897], "nice": false, "zero": false}, "axis": null},
        "y": {"datum": 5.1735, "type": "quantitative", "scale": {"domain": [6, 12], "nice": false, "zero": false}, "axis": null}
      }
    },
    {
      "data": {"values": [{}]},
      "mark": {"type": "text", "text": "km", "font": "Liberation Serif", "fontSize": 110, "align": "left", "baseline": "alphabetic", "color": "black"},
      "encoding": {
        "x": {"datum": 1.7325, "type": "quantitative", "scale": {"domain": [1, 2.69897], "nice": false, "zero": false}, "axis": null},
        "y": {"datum": 5.1735, "type": "quantitative", "scale": {"domain": [6, 12], "nice": false, "zero": false}, "axis": null}
      }
    },
    {
      "data": {"values": [{}]},
      "mark": {"type": "text", "text": "s", "font": "Liberation Serif", "fontSize": 105, "align": "left", "baseline": "alphabetic", "color": "black"},
      "encoding": {
        "x": {"datum": 1.9905, "type": "quantitative", "scale": {"domain": [1, 2.69897], "nice": false, "zero": false}, "axis": null},
        "y": {"datum": 5.1735, "type": "quantitative", "scale": {"domain": [6, 12], "nice": false, "zero": false}, "axis": null}
      }
    },
    {
      "data": {"values": [{}]},
      "mark": {"type": "text", "text": "−1", "font": "Liberation Serif", "fontSize": 75, "align": "left", "baseline": "alphabetic", "color": "black"},
      "encoding": {
        "x": {"datum": 2.0535, "type": "quantitative", "scale": {"domain": [1, 2.69897], "nice": false, "zero": false}, "axis": null},
        "y": {"datum": 5.3094, "type": "quantitative", "scale": {"domain": [6, 12], "nice": false, "zero": false}, "axis": null}
      }
    },
    {
      "data": {"values": [{}]},
      "mark": {"type": "text", "text": ")", "font": "Liberation Serif", "fontSize": 117, "align": "left", "baseline": "alphabetic", "color": "black"},
      "encoding": {
        "x": {"datum": 2.1819, "type": "quantitative", "scale": {"domain": [1, 2.69897], "nice": false, "zero": false}, "axis": null},
        "y": {"datum": 5.1735, "type": "quantitative", "scale": {"domain": [6, 12], "nice": false, "zero": false}, "axis": null}
      }
    },
    {
      "data": {"values": [{}]},
      "mark": {"type": "text", "text": "M", "angle": 270, "font": "Liberation Serif", "fontSize": 100, "align": "left", "baseline": "alphabetic", "color": "black"},
      "encoding": {
        "x": {"datum": 0.7134, "type": "quantitative", "scale": {"domain": [1, 2.69897], "nice": false, "zero": false}, "axis": null},
        "y": {"datum": 8.4851, "type": "quantitative", "scale": {"domain": [6, 12], "nice": false, "zero": false}, "axis": null}
      }
    },
    {
      "data": {"values": [{}]},
      "mark": {"type": "text", "text": "b", "angle": 270, "font": "Liberation Serif", "fontSize": 75, "align": "left", "baseline": "alphabetic", "color": "black"},
      "encoding": {
        "x": {"datum": 0.7705, "type": "quantitative", "scale": {"domain": [1, 2.69897], "nice": false, "zero": false}, "axis": null},
        "y": {"datum": 8.727, "type": "quantitative", "scale": {"domain": [6, 12], "nice": false, "zero": false}, "axis": null}
      }
    },
    {
      "data": {"values": [{}]},
      "mark": {"type": "text", "text": "(", "angle": 270, "font": "Liberation Serif", "fontSize": 117, "align": "left", "baseline": "alphabetic", "color": "black"},
      "encoding": {
        "x": {"datum": 0.7146, "type": "quantitative", "scale": {"domain": [1, 2.69897], "nice": false, "zero": false}, "axis": null},
        "y": {"datum": 8.8766, "type": "quantitative", "scale": {"domain": [6, 12], "nice": false, "zero": false}, "axis": null}
      }
    },
    {
      "data": {"values": [{}]},
      "mark": {"type": "text", "text": "M", "angle": 270, "font": "Liberation Serif", "fontSize": 100, "align": "left", "baseline": "alphabetic", "color": "black"},
      "encoding": {
        "x": {"datum": 0.7134, "type": "quantitative", "scale": {"domain": [1, 2.69897], "nice": false, "zero": false}, "axis": null},
        "y": {"datum": 9.0016, "type": "quantitative", "scale": {"domain": [6, 12], "nice": false, "zero": false}, "axis": null}
      }
    },
    {
      "data": {"values": [{}]},
      "mark": {"type": "text", "text": "⊙", "angle": 270, "font": "DejaVu Sans", "fontSize": 60, "align": "center", "baseline": "alphabetic", "color": "black"},
      "encoding": {
        "x": {"datum": 0.7646, "type": "quantitative", "scale": {"domain": [1, 2.69897], "nice": false, "zero": false}, "axis": null},
        "y": {"datum": 9.366, "type": "quantitative", "scale": {"domain": [6, 12], "nice": false, "zero": false}, "axis": null}
      }
    },
    {
      "data": {"values": [{}]},
      "mark": {"type": "text", "text": ")", "angle": 270, "font": "Liberation Serif", "fontSize": 117, "align": "left", "baseline": "alphabetic", "color": "black"},
      "encoding": {
        "x": {"datum": 0.7146, "type": "quantitative", "scale": {"domain": [1, 2.69897], "nice": false, "zero": false}, "axis": null},
        "y": {"datum": 9.4856, "type": "quantitative", "scale": {"domain": [6, 12], "nice": false, "zero": false}, "axis": null}
      }
    }
  ],
  "resolve": {"axis": {"x": "independent", "y": "independent"}}
}
